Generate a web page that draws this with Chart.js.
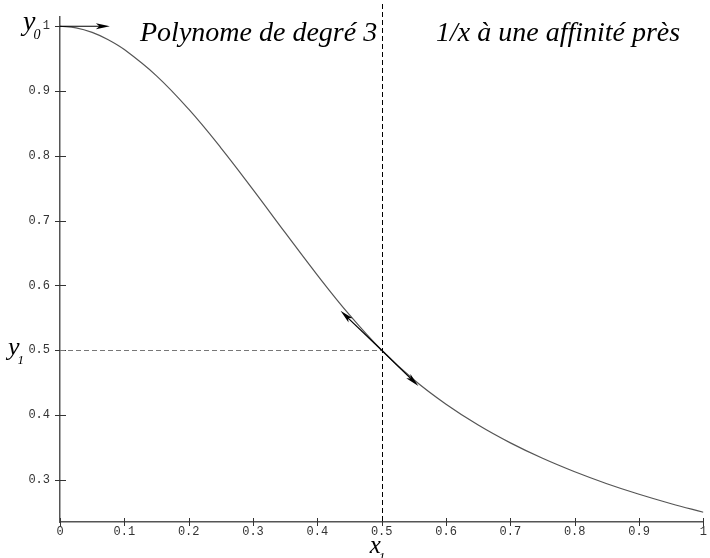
<!DOCTYPE html>
<html lang="fr">
<head>
<meta charset="utf-8">
<title>Polynome de degré 3 et 1/x</title>
<script src="https://cdn.jsdelivr.net/npm/chart.js@4/dist/chart.umd.min.js"></script>
<style>
  html, body { margin: 0; padding: 0; background: #fff; }
  canvas { display: block; }
</style>
</head>
<body>
<canvas id="courbe" width="710" height="558"></canvas>
<script>
// Points (polynome puis 1/x)
const abscisses = [0, 0.025, 0.05, 0.075, 0.1, 0.15, 0.2, 0.25, 0.3, 0.35, 0.4, 0.45, 0.5,
  0.55, 0.6, 0.65, 0.7, 0.75, 0.8, 0.85, 0.9, 0.95, 1];
const ordonnees = [1, 0.9976, 0.9905, 0.9792, 0.964, 0.9235, 0.872, 0.8125, 0.748, 0.6815, 0.616, 0.5545, 0.5,
  0.4545, 0.4167, 0.3846, 0.3571, 0.3333, 0.3125, 0.2941, 0.2778, 0.2632, 0.25];

// Graduations des axes
const xTicks = [0, 0.1, 0.2, 0.3, 0.4, 0.5, 0.6, 0.7, 0.8, 0.9, 1];
const yTicks = [0.3, 0.4, 0.5, 0.6, 0.7, 0.8, 0.9, 1];

// Point de raccord x1, y1 et tangentes
const raccord = [0.5, 0.5];
const tangenteHaut = [-0.064, 0.061];
const tangenteBas = [0.057, -0.055];
const titres = ['Polynome de degré 3', '1/x à une affinité près'];

const serif = '"Liberation Serif", "Times New Roman", Times, "DejaVu Serif", serif';

// Flèche avec pointe pleine
function fleche(ctx, x0, y0, x1, y1) {
  const a = Math.atan2(y1 - y0, x1 - x0);
  const c = Math.cos(a), s = Math.sin(a);
  const L = 14, w = 3;
  ctx.strokeStyle = '#000';
  ctx.lineWidth = 1.2;
  ctx.beginPath();
  ctx.moveTo(x0, y0);
  ctx.lineTo(x1 - L * 0.6 * c, y1 - L * 0.6 * s);
  ctx.stroke();
  ctx.fillStyle = '#000';
  ctx.beginPath();
  ctx.moveTo(x1, y1);
  ctx.lineTo(x1 - L * c + w * s, y1 - L * s - w * c);
  ctx.lineTo(x1 - L * 0.75 * c, y1 - L * 0.75 * s);
  ctx.lineTo(x1 - L * c - w * s, y1 - L * s + w * c);
  ctx.closePath();
  ctx.fill();
}

// Lettre avec indice
function indice(ctx, lettre, sub, x, y, taille) {
  ctx.fillStyle = '#000';
  ctx.font = 'italic ' + taille + 'px ' + serif;
  ctx.fillText(lettre, x, y);
  const w = ctx.measureText(lettre).width;
  ctx.font = 'italic ' + Math.round(taille * 0.5) + 'px ' + serif;
  ctx.fillText(sub, x + w - 2, y + taille * 0.32);
}

const annotations = {
  id: 'annotations',
  afterDraw(chart) {
    const { ctx, chartArea } = chart;
    const px = v => chart.scales.x.getPixelForValue(v);
    const py = v => chart.scales.y.getPixelForValue(v);
    ctx.save();

    // graduations qui traversent les axes
    ctx.strokeStyle = '#333';
    ctx.lineWidth = 1;
    ctx.beginPath();
    yTicks.forEach(v => {
      const p = Math.round(py(v)) + 0.5;
      ctx.moveTo(chartArea.left - 5, p);
      ctx.lineTo(chartArea.left + 6, p);
    });
    xTicks.forEach(v => {
      const p = Math.round(px(v)) + 0.5;
      ctx.moveTo(p, chartArea.bottom - 4);
      ctx.lineTo(p, chartArea.bottom + 4);
    });
    ctx.stroke();

    // pointillés
    ctx.setLineDash([5, 3]);
    ctx.strokeStyle = '#000';
    ctx.beginPath();
    ctx.moveTo(Math.round(px(raccord[0])) + 0.5, 4);
    ctx.lineTo(Math.round(px(raccord[0])) + 0.5, chartArea.bottom);
    ctx.stroke();
    ctx.strokeStyle = '#777';
    ctx.beginPath();
    ctx.moveTo(chartArea.left, Math.round(py(raccord[1])) + 0.5);
    ctx.lineTo(px(raccord[0]), Math.round(py(raccord[1])) + 0.5);
    ctx.stroke();
    ctx.setLineDash([]);

    // flèches : tangente horizontale en 0, tangente au raccord
    fleche(ctx, px(0), py(1), px(0.0775), py(1));
    fleche(ctx, px(raccord[0]), py(raccord[1]),
      px(raccord[0] + tangenteHaut[0]), py(raccord[1] + tangenteHaut[1]));
    fleche(ctx, px(raccord[0]), py(raccord[1]),
      px(raccord[0] + tangenteBas[0]), py(raccord[1] + tangenteBas[1]));

    // textes
    ctx.fillStyle = '#000';
    ctx.textBaseline = 'alphabetic';
    ctx.font = 'italic 28px ' + serif;
    ctx.fillText(titres[0], chartArea.left + 80, chartArea.top + 24);
    ctx.fillText(titres[1], chartArea.left + 376, chartArea.top + 24);

    indice(ctx, 'y', '0', chartArea.left - 37, py(1) + 3.5, 28);
    indice(ctx, 'y', '1', chartArea.left - 52, py(raccord[1]) + 5, 26);
    indice(ctx, 'x', '1', px(raccord[0]) - 12, chartArea.bottom + 31, 25);
    ctx.restore();
  }
};

const policeTicks = { family: '"Liberation Mono", "DejaVu Sans Mono", monospace', size: 12 };

new Chart(document.getElementById('courbe').getContext('2d'), {
  type: 'line',
  data: {
    datasets: [
      {
        data: abscisses.map((x, i) => ({ x: x, y: ordonnees[i] })),
        borderColor: '#555',
        borderWidth: 1.2,
        pointRadius: 0,
        tension: 0.4,
        fill: false
      }
    ]
  },
  options: {
    responsive: false,
    animation: false,
    layout: { padding: { top: 12, right: 4, left: 0, bottom: 0 } },
    plugins: { legend: { display: false }, tooltip: { enabled: false } },
    scales: {
      x: {
        type: 'linear',
        min: 0,
        max: 1,
        afterBuildTicks: s => { s.ticks = xTicks.map(v => ({ value: v })); },
        afterFit: s => { s.height = 36; },
        grid: { display: false, drawTicks: false },
        border: { display: true, color: '#555', width: 1.5 },
        ticks: { font: policeTicks, color: '#333', padding: 3, maxRotation: 0, autoSkip: false,
          callback: v => String(v) }
      },
      y: {
        type: 'linear',
        min: 0.235,
        max: 1.014,
        afterBuildTicks: s => { s.ticks = yTicks.map(v => ({ value: v })); },
        afterFit: s => { s.width = 60; },
        grid: { display: false, drawTicks: false },
        border: { display: true, color: '#555', width: 1.5 },
        ticks: { font: policeTicks, color: '#333', padding: 10, autoSkip: false,
          callback: v => String(v) }
      }
    }
  },
  plugins: [annotations]
});
</script>
</body>
</html>
